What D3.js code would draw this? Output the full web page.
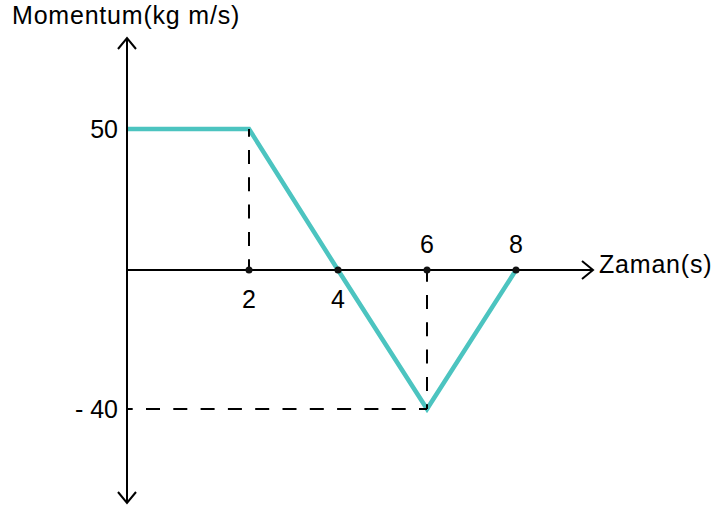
<!DOCTYPE html>
<html>
<head>
<meta charset="utf-8">
<script src="https://cdn.jsdelivr.net/npm/d3@7"></script>
<style>
  body { margin: 0; background: #fff; }
  text { font-family: "Liberation Sans", Arial, sans-serif; font-size: 25px; fill: #000; }
</style>
</head>
<body>
<div id="chart"></div>
<script>
// momentum vs time
var times = [0, 2, 4, 6, 8];
var momentum = [50, 50, 0, -40, 0];
var xTickLabels = ["2", "4", "6", "8"];
var yTickValues = [50, -40];
var yTickLabels = ["50", "- 40"];

var width = 716, height = 511;

var svg = d3.select("#chart")
  .append("svg")
  .attr("width", width)
  .attr("height", height);

// the drawing is not to a uniform scale, so use piecewise scales
var x = d3.scaleLinear()
  .domain([0, 2, 8])
  .range([127, 249, 516]);

var y = d3.scaleLinear()
  .domain([-40, 0, 50])
  .range([409, 270, 129]);

var x0 = x(0), y0 = y(0);
var axisTop = 38, axisBottom = 503, axisRight = 593;

// momentum line
var line = d3.line()
  .x((d, i) => x(times[i]))
  .y(d => y(d));

svg.append("path")
  .datum(momentum)
  .attr("d", line)
  .attr("fill", "none")
  .attr("stroke", "#4cc4c0")
  .attr("stroke-width", 4.5)
  .attr("stroke-linejoin", "miter");

// dashed guides
var dash = "14,13.3";
svg.append("line")
  .attr("x1", x(2)).attr("x2", x(2))
  .attr("y1", y(50)).attr("y2", y0)
  .attr("stroke", "#000").attr("stroke-width", 2)
  .attr("stroke-dasharray", dash)
  .attr("stroke-dashoffset", 6.3);

svg.append("line")
  .attr("x1", x(6)).attr("x2", x(6))
  .attr("y1", y0).attr("y2", y(-40))
  .attr("stroke", "#000").attr("stroke-width", 2)
  .attr("stroke-dasharray", dash)
  .attr("stroke-dashoffset", 2.3);

svg.append("line")
  .attr("x1", x0).attr("x2", x(6))
  .attr("y1", y(-40)).attr("y2", y(-40))
  .attr("stroke", "#000").attr("stroke-width", 2)
  .attr("stroke-dasharray", dash)
  .attr("stroke-dashoffset", 8.3);

// axes with open arrow heads
var axes = svg.append("g")
  .attr("stroke", "#000")
  .attr("stroke-width", 2)
  .attr("fill", "none");

axes.append("line")
  .attr("x1", x0).attr("x2", x0)
  .attr("y1", axisTop).attr("y2", axisBottom);
axes.append("line")
  .attr("x1", x0).attr("x2", axisRight)
  .attr("y1", y0).attr("y2", y0);

axes.append("path")
  .attr("d", `M${x0 - 9},${axisTop + 11}L${x0},${axisTop}L${x0 + 9},${axisTop + 11}`);
axes.append("path")
  .attr("d", `M${x0 - 9},${axisBottom - 11}L${x0},${axisBottom}L${x0 + 9},${axisBottom - 11}`);
axes.append("path")
  .attr("d", `M${axisRight - 11},${y0 - 9}L${axisRight},${y0}L${axisRight - 11},${y0 + 9}`);

// dots on the time axis
svg.selectAll("circle.tick")
  .data(times.slice(1))
  .join("circle")
  .attr("class", "tick")
  .attr("cx", d => x(d))
  .attr("cy", y0)
  .attr("r", 3.5)
  .attr("fill", "#111");

// time labels: 2 and 4 below, 6 and 8 above
svg.selectAll("text.xlab")
  .data(times.slice(1))
  .join("text")
  .attr("class", "xlab")
  .attr("x", d => x(d))
  .attr("y", (d, i) => i < 2 ? y0 + 38 : y0 - 17)
  .attr("text-anchor", "middle")
  .text((d, i) => xTickLabels[i]);

// momentum labels
svg.selectAll("text.ylab")
  .data(yTickValues)
  .join("text")
  .attr("class", "ylab")
  .attr("x", x0 - 9)
  .attr("y", d => y(d) + 9)
  .attr("text-anchor", "end")
  .text((d, i) => yTickLabels[i]);

// axis titles
svg.append("text")
  .attr("x", 12)
  .attr("y", 24)
  .attr("letter-spacing", "0.8px")
  .text("Momentum(kg m/s)");

svg.append("text")
  .attr("x", axisRight + 6)
  .attr("y", y0 + 3)
  .attr("letter-spacing", "0.8px")
  .text("Zaman(s)");
</script>
</body>
</html>
